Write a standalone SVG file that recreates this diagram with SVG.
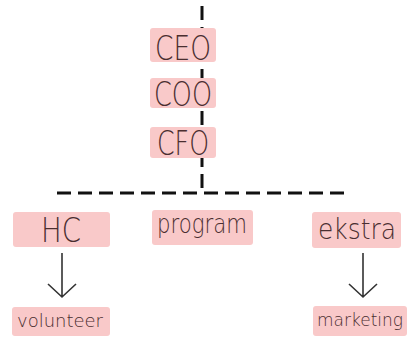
<svg xmlns="http://www.w3.org/2000/svg" width="407" height="344" viewBox="0 0 407 344">
<style>
.box{fill:#f9c9c9;}
.t{font-family:"DejaVu Sans","Liberation Sans",sans-serif;font-weight:200;fill:#4a2e30;text-anchor:middle;}
.dash{stroke:#111;stroke-width:3;fill:none;stroke-dasharray:14 7;}
.arr{stroke:#333;stroke-width:1.6;fill:none;}
</style>
<rect width="407" height="344" fill="#fff"/>
<g id="connectors">
<line class="dash" x1="202" y1="6" x2="202" y2="190" stroke-dasharray="10 8"/>
<line class="dash" x1="57" y1="193" x2="345" y2="193"/>
<path class="arr" d="M62 253V297M48 284L62 297L76 284"/>
<path class="arr" d="M363 253V297M349 284L363 297L377 284"/>
</g>
<g id="ceo"><rect class="box" x="150" y="28" width="66" height="34" rx="3"/><text class="t" x="183" y="60" font-size="34" textLength="56" lengthAdjust="spacingAndGlyphs">CEO</text></g>
<g id="coo"><rect class="box" x="150" y="78" width="66" height="30" rx="3"/><text class="t" x="183" y="106" font-size="33" textLength="58" lengthAdjust="spacingAndGlyphs">COO</text></g>
<g id="cfo"><rect class="box" x="150" y="127" width="66" height="31" rx="3"/><text class="t" x="183" y="155" font-size="33" textLength="52" lengthAdjust="spacingAndGlyphs">CFO</text></g>
<g id="hc"><rect class="box" x="13" y="212" width="97" height="35" rx="3"/><text class="t" x="61" y="242" font-size="34" textLength="40" lengthAdjust="spacingAndGlyphs">HC</text></g>
<g id="program"><rect class="box" x="152" y="210" width="101" height="35" rx="3"/><text class="t" x="202" y="233" font-size="26" textLength="90" lengthAdjust="spacingAndGlyphs">program</text></g>
<g id="ekstra"><rect class="box" x="312" y="212" width="89" height="36" rx="3"/><text class="t" x="357" y="239" font-size="28" textLength="78" lengthAdjust="spacingAndGlyphs">ekstra</text></g>
<g id="volunteer"><rect class="box" x="12" y="307" width="98" height="29" rx="3"/><text class="t" x="60" y="327" font-size="17" textLength="86" lengthAdjust="spacingAndGlyphs">volunteer</text></g>
<g id="marketing"><rect class="box" x="313" y="306" width="94" height="30" rx="3"/><text class="t" x="360" y="326" font-size="17" textLength="86" lengthAdjust="spacingAndGlyphs">marketing</text></g>
</svg>
